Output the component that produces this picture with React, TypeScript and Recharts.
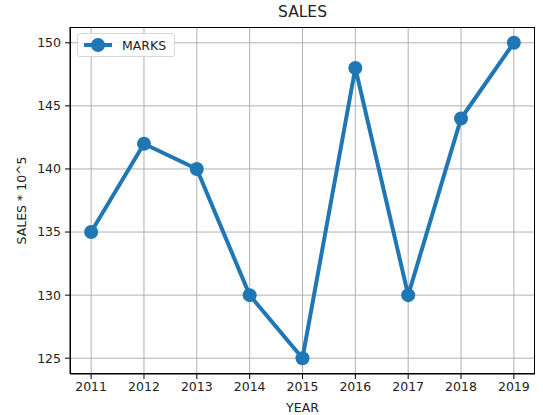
import { LineChart, Line, XAxis, YAxis, CartesianGrid } from "recharts";

const years = [2011, 2012, 2013, 2014, 2015, 2016, 2017, 2018, 2019];
const marks = [135, 142, 140, 130, 125, 148, 130, 144, 150];
const yTicks = [125, 130, 135, 140, 145, 150];

const data = years.map((year, i) => ({ year, marks: marks[i] }));

const BLUE = "#1f77b4";
const FONT = "DejaVu Sans, sans-serif";

// plot box (matches the chart margins below)
const PLOT = { left: 70, top: 27, width: 465, height: 347 };

function LegendBox() {
  return (
    <div
      style={{
        position: "absolute",
        left: PLOT.left + 7,
        top: PLOT.top + 6,
        border: "1px solid #d6d6d6",
        borderRadius: 3,
        background: "rgba(255,255,255,0.8)",
        padding: "3px 8px 3px 5px",
        display: "flex",
        alignItems: "center",
        fontFamily: FONT,
        fontSize: 12.5,
        color: "#222",
      }}
    >
      <svg width={30} height={16} style={{ marginRight: 9 }}>
        <line x1={1} y1={8} x2={29} y2={8} stroke={BLUE} strokeWidth={4} />
        <circle cx={15} cy={8} r={7} fill={BLUE} />
      </svg>
      MARKS
    </div>
  );
}

export default function App() {
  return (
    <div style={{ position: "absolute", left: 0, top: 0, width: 543, height: 415, background: "#fff" }}>
      <div
        style={{
          position: "absolute",
          top: 3,
          left: PLOT.left,
          width: PLOT.width,
          textAlign: "center",
          fontFamily: FONT,
          fontSize: 15.5,
          color: "#222",
        }}
      >
        SALES
      </div>
      <LineChart
        width={543}
        height={415}
        data={data}
        margin={{ top: PLOT.top, right: 543 - PLOT.left - PLOT.width, left: 0, bottom: 0 }}
        style={{ fontFamily: FONT }}
      >
        <CartesianGrid stroke="#b0b0b0" strokeWidth={1} horizontalValues={yTicks} verticalValues={years} />
        <XAxis
          dataKey="year"
          type="number"
          domain={[2010.6, 2019.4]}
          ticks={years}
          height={415 - PLOT.top - PLOT.height}
          stroke="#000"
          tickSize={5}
          tickMargin={3}
          tick={{ fill: "#222", fontSize: 12.5 }}
          allowDataOverflow
          label={{ value: "YEAR", position: "insideBottom", offset: 3, fill: "#222", fontSize: 12.5 }}
        />
        <YAxis
          type="number"
          domain={[123.75, 151.25]}
          ticks={yTicks}
          width={PLOT.left}
          stroke="#000"
          tickSize={5}
          tickMargin={4}
          tick={{ fill: "#222", fontSize: 12.5 }}
          allowDataOverflow
          label={{ value: "SALES * 10^5", angle: -90, position: "insideLeft", offset: 22, fill: "#222", fontSize: 12.5, style: { textAnchor: "middle" } }}
        />
        <Line
          type="linear"
          dataKey="marks"
          name="MARKS"
          stroke={BLUE}
          strokeWidth={4}
          dot={{ r: 7, fill: BLUE, stroke: BLUE, strokeWidth: 0 }}
          activeDot={false}
          isAnimationActive={false}
        />
      </LineChart>
      <div
        style={{
          position: "absolute",
          left: PLOT.left,
          top: PLOT.top,
          width: PLOT.width,
          height: PLOT.height,
          border: "1px solid #000",
          boxSizing: "border-box",
          pointerEvents: "none",
        }}
      />
      <LegendBox />
    </div>
  );
}
